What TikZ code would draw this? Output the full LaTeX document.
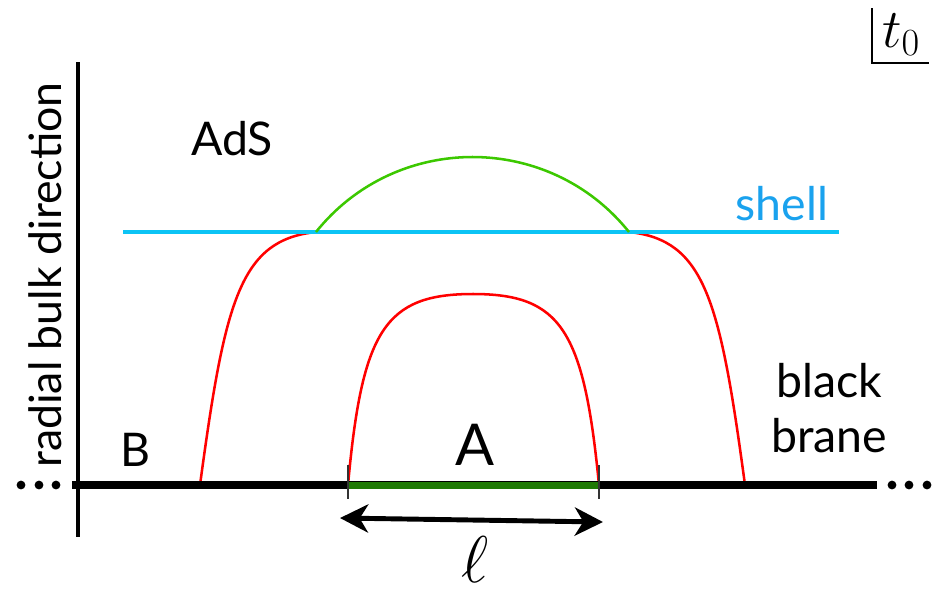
\RequirePackage{fix-cm}
\documentclass[tikz,border=0pt]{standalone}
\usepackage{fontspec}
\setmainfont{Lato}
\usetikzlibrary{arrows.meta}
\definecolor{geored}{HTML}{FF0000}
\definecolor{geogreen}{HTML}{3CC800}
\definecolor{bargreen}{HTML}{1F7A05}
\definecolor{shellline}{HTML}{0CC4F5}
\definecolor{shelltext}{HTML}{1AA2EE}

\begin{document}
\begin{tikzpicture}[x=0.025cm,y=-0.025cm,
  font=\fontsize{33}{39}\selectfont,
  geod/.style={geored,line width=1.8pt},
  lbl/.style={inner sep=0pt,anchor=base},
  lentip/.tip={Stealth[length=20pt,width=20pt,inset=6pt]}]
  \useasboundingbox (0,0) rectangle (938,595);
  % end points on the boundary and on the shell
  \coordinate (ol) at (200,485);
  \coordinate (or) at (745,485);
  \coordinate (il) at (348,485);
  \coordinate (ir) at (599,485);
  \coordinate (sl) at (316,232);
  \coordinate (sr) at (629,232);
  % red geodesics
  \draw[geod] (ol) .. controls (225,300) and (240,240) .. (sl);
  \draw[geod] (or) .. controls (720,300) and (705,240) .. (sr);
  \draw[geod] (il) .. controls (362,330) and (385,294) .. (473,294)
                   .. controls (561,294) and (584,330) .. (ir);
  % shell
  \draw[shellline,line width=2.3pt] (123,232) coordinate (hl) -- (839,232) coordinate (hr);
  \draw[geogreen,line width=1.8pt] (sl) .. controls (396,132) and (549,132) .. (sr);
  % axes
  \draw[line width=2.3pt] (78,62) coordinate (ytop) -- (78,537) coordinate (ybot);
  \draw[line width=5.3pt] (72,485) coordinate (bl) -- (877,485) coordinate (br);
  \draw[bargreen,line width=5pt] (il) -- (ir);
  \draw[line width=1pt,black!80] (348,465) -- (348,499);
  \draw[line width=1pt,black!80] (599,465) -- (599,499);
  \foreach \d in {21,39,56,892,909,927}
    \fill (\d,485) circle[radius=1.1mm];
  % interval length
  \coordinate (la) at (340,518);
  \coordinate (lb) at (603,522);
  \draw[line width=3.5pt,lentip-lentip] (la) -- (lb);
  \node[lbl,font=\fontsize{47}{47}\selectfont] (ell) at (475,582) {$\ell$};
  % labels
  \node[lbl] (ads) at (232,155) {AdS};
  \node[lbl,shelltext] (shell) at (782,220) {shell};
  \node[lbl,align=center] (bb) at (829,452) {black\\brane};
  \node[lbl] (regB) at (135,466) {B};
  \node[lbl,font=\fontsize{41}{41}\selectfont] (regA) at (475,465) {A};
  \node[lbl,rotate=90,font=\fontsize{31.7}{38}\selectfont] (radial) at (61,275) {radial bulk direction};
  % time slice
  \node[lbl,anchor=base west,font=\fontsize{39}{39}\selectfont] (tz) at (882,47) {$t_0$};
  \draw[line width=1.4pt] (872,8) |- (929,63);
\end{tikzpicture}
\end{document}
